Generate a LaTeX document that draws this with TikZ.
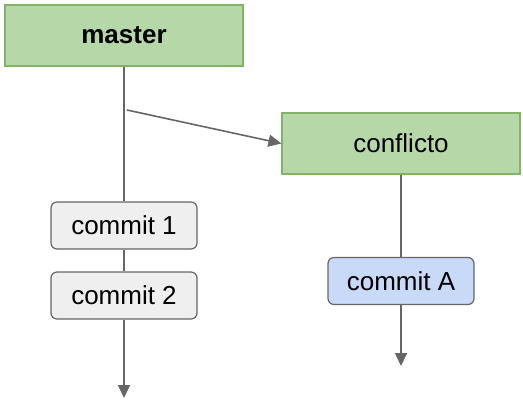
\documentclass[tikz,border=0pt]{standalone}
\usepackage{fontspec}
\setmainfont{Liberation Sans}
\definecolor{gitGreen}{HTML}{B6D7A8}
\definecolor{gitGreenLine}{HTML}{82B366}
\definecolor{gitGray}{HTML}{EFEFEF}
\definecolor{gitBlue}{HTML}{C9DAF8}
\definecolor{gitInk}{HTML}{666666}
\usetikzlibrary{arrows.meta,positioning}
\begin{document}
\begin{tikzpicture}[
  x=0.5pt,y=-0.5pt,
  font=\fontsize{13}{15}\selectfont,
  branch/.style={draw=gitGreenLine,line width=0.6pt,fill=gitGreen,
                 minimum width=119pt,minimum height=30.5pt,inner sep=0pt},
  commitbox/.style={draw=gitInk,line width=0.6pt,rounded corners=3pt,fill=gitGray,
                    minimum width=73pt,minimum height=23.5pt,inner sep=0pt},
  link/.style={draw=gitInk,line width=0.8pt},
  >={Triangle[length=6.5pt,width=6pt]}
]
\useasboundingbox (0,0) rectangle (523,408);
\node[branch]    (master)    at (124,35.5) {\textbf{master}};
\node[branch]    (conflicto) at (401,143.5) {conflicto};
\node[commitbox] (commit1)   at (124,225.5) {commit 1};
\node[commitbox] (commit2)   at (124,295.5) {commit 2};
\node[commitbox,fill=gitBlue] (commitA) at (401,281) {commit A};
\coordinate (fork) at (127,110);
\coordinate (masterEnd) at (124,398);
\coordinate (conflictoEnd) at (401,366);

\draw[link] (master) -- (commit1);
\draw[link] (commit1) -- (commit2);
\draw[link,->,gitInk] (commit2) -- (masterEnd);
\draw[link,->,gitInk] (fork) -- (conflicto.west);
\draw[link] (conflicto) -- (commitA);
\draw[link,->,gitInk] (commitA) -- (conflictoEnd);
\end{tikzpicture}
\end{document}
